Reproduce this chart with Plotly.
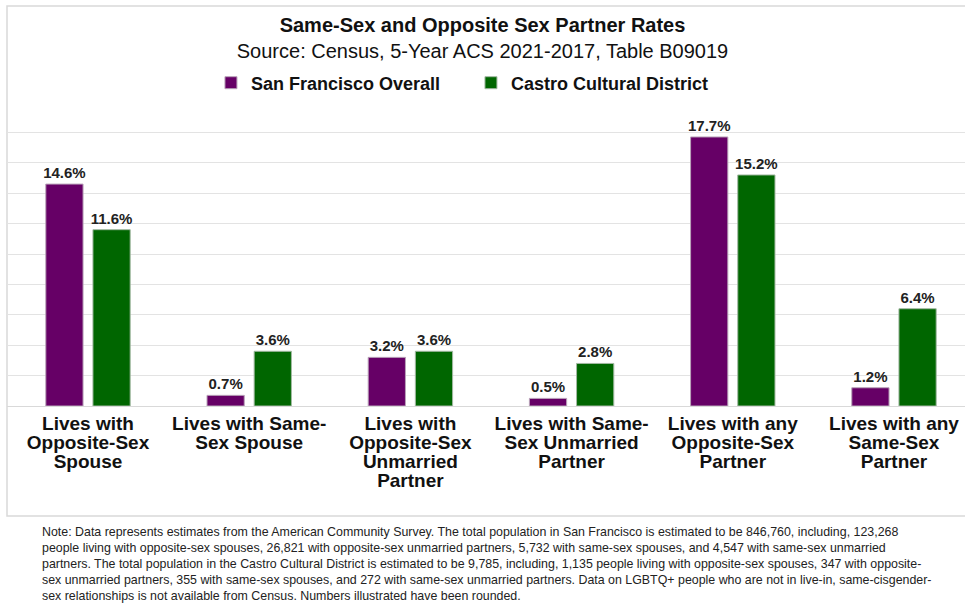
import plotly.graph_objects as go

# Data
categories = [
    "Lives with<br>Opposite-Sex<br>Spouse",
    "Lives with Same-<br>Sex Spouse",
    "Lives with<br>Opposite-Sex<br>Unmarried<br>Partner",
    "Lives with Same-<br>Sex Unmarried<br>Partner",
    "Lives with any<br>Opposite-Sex<br>Partner",
    "Lives with any<br>Same-Sex<br>Partner",
]
sf_overall = [14.6, 0.7, 3.2, 0.5, 17.7, 1.2]
castro = [11.6, 3.6, 3.6, 2.8, 15.2, 6.4]

note = (
    "Note: Data represents estimates from the American Community Survey. The total population in San Francisco is estimated to be 846,760, including, 123,268<br>"
    "people living with opposite-sex spouses, 26,821 with opposite-sex unmarried partners, 5,732 with same-sex spouses, and 4,547 with same-sex unmarried<br>"
    "partners. The total population in the Castro Cultural District is estimated to be 9,785, including, 1,135 people living with opposite-sex spouses, 347 with opposite-<br>"
    "sex unmarried partners, 355 with same-sex spouses, and 272 with same-sex unmarried partners. Data on LGBTQ+ people who are not in live-in, same-cisgender-<br>"
    "sex relationships is not available from Census. Numbers illustrated have been rounded."
)

# Bold, larger glyphs on tight line spacing for the category labels
tick_text = [
    "<br>".join(f"<span style='font-size:19px'><b>{line}</b></span>" for line in c.split("<br>"))
    for c in categories
]

fig = go.Figure()
fig.add_trace(go.Bar(
    x=categories, y=sf_overall, name="<b>San Francisco Overall</b>",
    marker_color="#660066", marker_line_color="#b9a3b9", marker_line_width=1,
    text=[f"{v:.1f}%" for v in sf_overall],
))
fig.add_trace(go.Bar(
    x=categories, y=castro, name="<b>Castro Cultural District</b>",
    marker_color="#006600", marker_line_color="#a3b9a3", marker_line_width=1,
    text=[f"{v:.1f}%" for v in castro],
))
fig.update_traces(
    textposition="outside", cliponaxis=False, constraintext="none",
    textfont=dict(family="Liberation Sans", size=15, color="#222222"),
    texttemplate="<b>%{text}</b>",
)

# the original chart runs past the right edge, hence the x range
fig.update_layout(
    width=965, height=605,
    margin=dict(l=7, r=0, t=102, b=199, autoexpand=False),
    paper_bgcolor="white", plot_bgcolor="white",
    font=dict(family="Liberation Sans, Arial", color="#111111"),
    title=dict(
        text="<b>Same-Sex and Opposite Sex Partner Rates</b><br>"
             "Source: Census, 5-Year ACS 2021-2017, Table B09019",
        x=0.5, xanchor="center", y=0.947, yanchor="top",
        font=dict(size=20, color="#111111"),
    ),
    legend=dict(
        orientation="h", x=0.4843, xanchor="center", y=1.0625, yanchor="middle",
        font=dict(size=18, color="#111111"), itemwidth=30, traceorder="normal",
        entrywidth=215, entrywidthmode="pixels",
    ),
    barmode="group", bargap=0.415, bargroupgap=0.21,
    xaxis=dict(
        tickmode="array", tickvals=categories, ticktext=tick_text,
        tickfont=dict(size=14.6, color="#111111"), ticks="", showline=False,
        ticklabelstandoff=8, range=[-0.5025, 5.4405],
    ),
    yaxis=dict(
        range=[0, 20], dtick=2, showticklabels=False, gridcolor="#e3e3e3",
        gridwidth=1, zeroline=True, zerolinecolor="#d9d9d9", zerolinewidth=1,
    ),
)

# Chart border
fig.add_shape(type="rect", xref="paper", yref="paper",
              x0=0, x1=1.02, y0=-0.3618, y1=1.3158,
              line=dict(color="#d9d9d9", width=1.5), layer="below")

fig.add_annotation(
    text=note, xref="paper", yref="paper", x=0.0344, xanchor="left",
    y=-0.385, yanchor="top", showarrow=False, align="left",
    font=dict(size=12.4, color="#222222", family="Liberation Sans, Arial"),
)

# drop the page's default body margin so the figure fills the window
fig.write_html(
    "out.html",
    config={"displayModeBar": False},
    post_script="document.body.style.margin='0';document.body.style.overflow='hidden';",
)
